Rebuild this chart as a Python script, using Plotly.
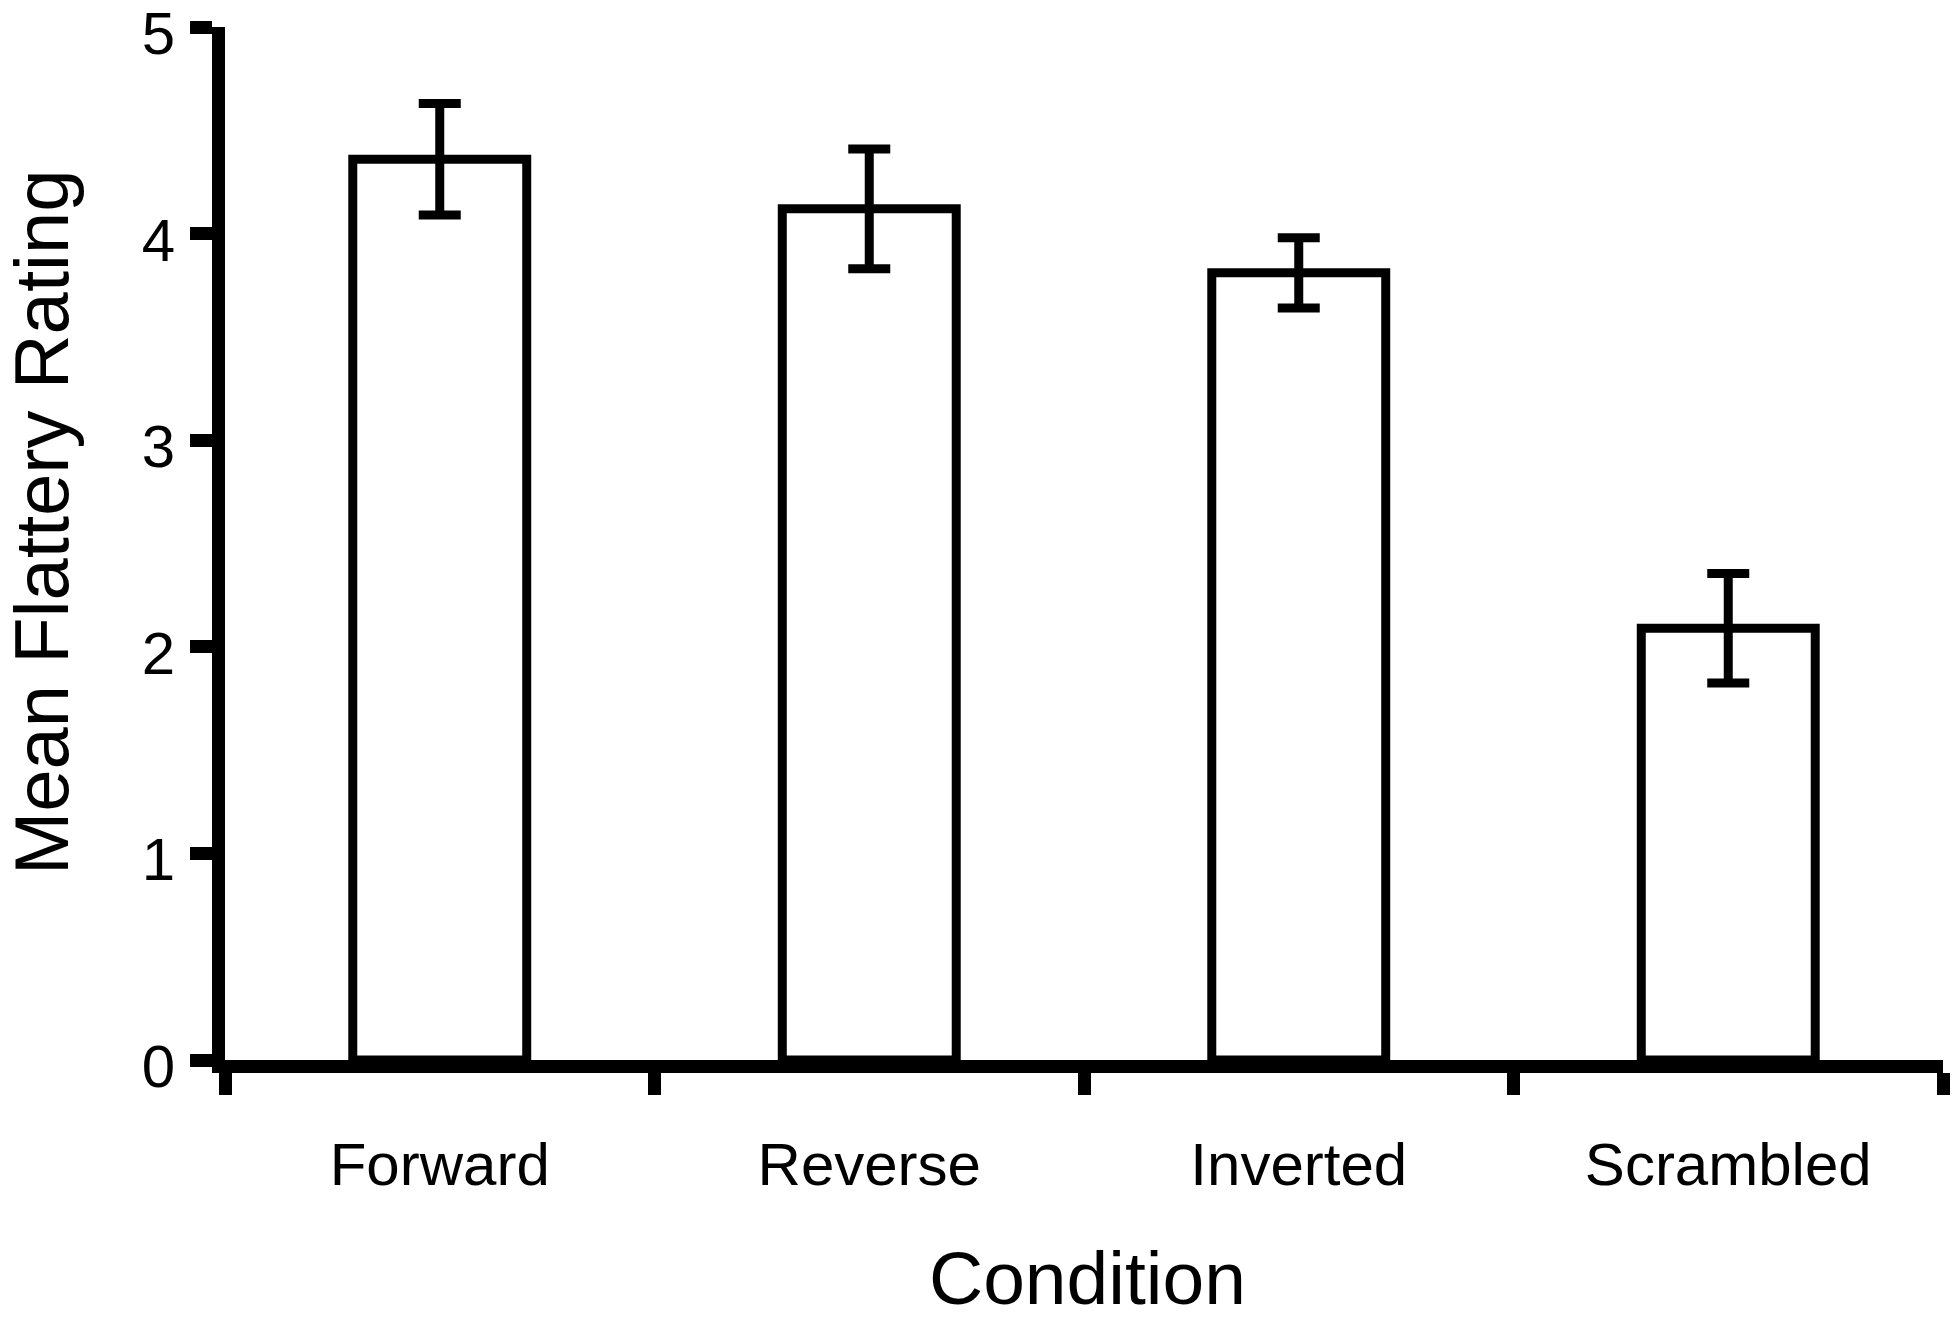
import plotly.graph_objects as go

categories = ["Forward", "Reverse", "Inverted", "Scrambled"]
means = [4.36, 4.12, 3.81, 2.09]
errors = [0.27, 0.29, 0.17, 0.265]
y_ticks = [0, 1, 2, 3, 4, 5]

FONT = "Liberation Sans, Arial, sans-serif"

L, R, T, B = 225, 17, 27, 259
W, H = 1960, 1319
PW = W - L - R
PH = H - T - B

fig = go.Figure()
fig.add_trace(go.Bar(
    x=categories,
    y=means,
    width=0.405,
    marker=dict(color="white", line=dict(color="black", width=9)),
    error_y=dict(type="data", array=errors, visible=True,
                 color="black", thickness=9, width=21),
    showlegend=False,
))

fig.update_layout(
    width=W, height=H,
    margin=dict(l=L, r=R, t=T, b=B, autoexpand=False),
    paper_bgcolor="white", plot_bgcolor="white",
    font=dict(family=FONT, color="black"),
)

fig.update_xaxes(
    type="category",
    range=[-0.5, 3.5],
    automargin=False,
    showline=True, linecolor="black", linewidth=13,
    ticks="outside", tickson="boundaries", ticklen=22, tickwidth=13, tickcolor="black",
    tickfont=dict(size=60, family=FONT, color="black"),
    ticklabelstandoff=40,
    showgrid=False, zeroline=False,
)
fig.update_yaxes(
    range=[0, 5],
    tickvals=y_ticks,
    automargin=False,
    ticklabeloverflow="allow",
    showline=True, linecolor="black", linewidth=13,
    ticks="outside", ticklen=22, tickwidth=13, tickcolor="black",
    tickfont=dict(size=60, family=FONT, color="black"),
    ticklabelstandoff=3,
    ticklabelshift=6,
    showgrid=False, zeroline=False,
)

fig.add_annotation(
    text="Mean Flattery Rating", textangle=-90,
    xref="paper", yref="paper",
    x=(41 - L) / PW, y=(H - B - 523) / PH,
    xanchor="center", yanchor="middle", showarrow=False,
    font=dict(size=76, family=FONT, color="black"),
)
fig.add_annotation(
    text="Condition",
    xref="paper", yref="paper",
    x=(1087 - L) / PW, y=(H - B - 1278) / PH,
    xanchor="center", yanchor="middle", showarrow=False,
    font=dict(size=75, family=FONT, color="black"),
)

fig.write_html(
    "out.html",
    config={"displayModeBar": False},
    post_script="document.body.style.margin='0';document.body.style.padding='0';",
)
